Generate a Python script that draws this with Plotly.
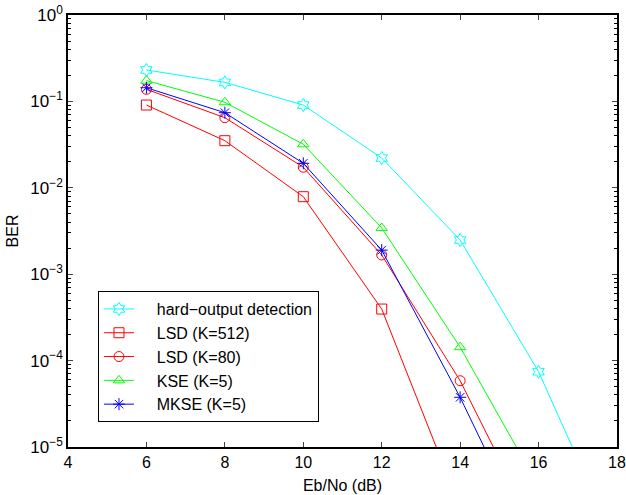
import plotly.graph_objects as go

hard_x = [6, 8, 10, 12, 14, 16, 18]
hard_y = [0.231, 0.166, 0.0908, 0.0221, 0.00249, 7.44e-5, 7.0e-7]

lsd512_x = [6, 8, 10, 12, 14]
lsd512_y = [0.0908, 0.0351, 0.00789, 3.95e-4, 2.0e-6]

lsd80_x = [6, 8, 10, 12, 14, 16]
lsd80_y = [0.138, 0.0648, 0.0173, 0.00167, 5.85e-5, 9.0e-7]

kse_x = [6, 8, 10, 12, 14, 16]
kse_y = [0.174, 0.0977, 0.0319, 0.00343, 1.43e-4, 3.5e-6]

mkse_x = [6, 8, 10, 12, 14, 16]
mkse_y = [0.144, 0.074, 0.0192, 0.0019, 3.76e-5, 4.9e-7]

series = [
    ("hard\u2212output detection", hard_x, hard_y, "#00FFFF", "hexagram-open"),
    ("LSD (K=512)", lsd512_x, lsd512_y, "#FF0000", "square-open"),
    ("LSD (K=80)", lsd80_x, lsd80_y, "#FF0000", "circle-open"),
    ("KSE (K=5)", kse_x, kse_y, "#00FF00", "triangle-up-open"),
    ("MKSE (K=5)", mkse_x, mkse_y, "#0000FF", "asterisk-open"),
]

x_ticks = [4, 6, 8, 10, 12, 14, 16, 18]
y_ticks = [1e-5, 1e-4, 1e-3, 1e-2, 1e-1, 1e0]
y_ticktext = ["10<sup>\u22125</sup>", "10<sup>\u22124</sup>", "10<sup>\u22123</sup>",
              "10<sup>\u22122</sup>", "10<sup>\u22121</sup>", "10<sup>0</sup>"]
minor_y = [m * 10 ** e for e in range(-5, 0) for m in range(2, 10)]

fig = go.Figure()
for name, xs, ys, color, sym in series:
    fig.add_trace(go.Scatter(
        x=xs, y=ys, name="\u00a0\u00a0\u00a0\u00a0" + name, mode="lines+markers",
        line=dict(color=color, width=1),
        marker=dict(symbol=sym, size=10, color=color, line=dict(color=color, width=1)),
    ))

fam = "Liberation Sans, Arial, sans-serif"

fig.update_layout(
    width=626, height=495,
    margin=dict(l=68, r=9, t=15, b=48, autoexpand=False),
    paper_bgcolor="white", plot_bgcolor="white",
    font=dict(family=fam, size=16, color="black"),
    showlegend=True,
    legend=dict(
        x=0.0546, y=0.361, xanchor="left", yanchor="top",
        bgcolor="white", bordercolor="black", borderwidth=1,
        font=dict(family=fam, size=16, color="black"),
        tracegroupgap=0,
    ),
)
fig.update_xaxes(
    range=[4, 18], tickvals=x_ticks, ticks="inside", ticklen=5,
    tickfont=dict(family=fam, size=16, color="black"), automargin=False,
    showline=True, linecolor="black", linewidth=1.5, mirror="ticks",
    showgrid=False, zeroline=False,
    title=dict(text="Eb/No (dB)", standoff=10, font=dict(family=fam, size=16, color="black")),
)
fig.update_yaxes(
    type="log", range=[-5, 0], tickvals=y_ticks, ticktext=y_ticktext,
    ticks="inside", ticklen=5, ticklabeloverflow="allow", automargin=False,
    tickfont=dict(family=fam, size=17, color="black"),
    minor=dict(ticks="inside", ticklen=3, tickvals=minor_y, tickcolor="black", showgrid=False),
    showline=True, linecolor="black", linewidth=1.5, mirror="ticks",
    showgrid=False, zeroline=False,
    title=dict(text="BER", standoff=8, font=dict(family=fam, size=16, color="black")),
)

fig.write_html("out.html", config={"displayModeBar": False},
               post_script="document.body.style.margin='0';")
